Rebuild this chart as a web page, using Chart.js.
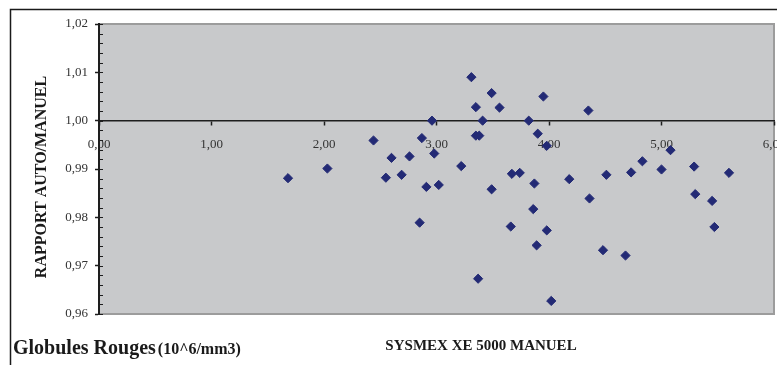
<!DOCTYPE html>
<html>
<head>
<meta charset="utf-8">
<title>Globules Rouges - Sysmex XE 5000</title>
<script src="https://cdn.jsdelivr.net/npm/chart.js@4/dist/chart.umd.min.js"></script>
<style>
  html, body { margin: 0; padding: 0; background: #ffffff; }
  #chart { display: block; }
</style>
</head>
<body>
<canvas id="chart" width="777" height="365"></canvas>
<script>
// Manual count (10^6/mm3) and automatic/manual ratio for each sample
const manuelValues = [
  1.68, 2.03, 2.44, 2.55, 2.60, 2.69, 2.76, 2.85, 2.87, 2.91,
  2.96, 2.98, 3.02, 3.22, 3.31, 3.35, 3.35, 3.38, 3.37, 3.41,
  3.49, 3.49, 3.56, 3.66, 3.67, 3.74, 3.82, 3.86, 3.87, 3.90,
  3.89, 3.95, 3.98, 3.98, 4.02, 4.18, 4.35, 4.36, 4.48, 4.51,
  4.68, 4.73, 4.83, 5.00, 5.08, 5.29, 5.30, 5.45, 5.47, 5.60
];
const rapportValues = [
  0.9881, 0.9901, 0.9959, 0.9882, 0.9923, 0.9888, 0.9926, 0.9789, 0.9964, 0.9863,
  1.0000, 0.9932, 0.9867, 0.9906, 1.0090, 1.0028, 0.9969, 0.9969, 0.9673, 1.0000,
  1.0057, 0.9858, 1.0027, 0.9781, 0.9890, 0.9892, 1.0000, 0.9817, 0.9870, 0.9973,
  0.9742, 1.0050, 0.9773, 0.9948, 0.9627, 0.9879, 1.0021, 0.9839, 0.9732, 0.9888,
  0.9721, 0.9893, 0.9916, 0.9899, 0.9939, 0.9905, 0.9848, 0.9834, 0.9780, 0.9892
];

// Axis settings and texts
const xTicks = { min: 0, max: 6, step: 1 };
const yTicks = { min: 0.96, max: 1.02, step: 0.01, minorStep: 0.002 };
const xAxisTitle = 'SYSMEX XE 5000 MANUEL';
const yAxisTitle = 'RAPPORT AUTO/MANUEL';
const chartTitle = 'Globules Rouges';
const chartUnit = '(10^6/mm3)';

const SERIF = "'Liberation Serif', 'Times New Roman', 'DejaVu Serif', serif";
const commaFormat = v => Number(v).toFixed(2).replace('.', ',');

const points = manuelValues.map((x, i) => ({ x: x, y: rapportValues[i] }));

// Gray plot area, its border, minor ticks, outer frame and free texts
const decorations = {
  id: 'decorations',
  beforeDraw(chart) {
    const { ctx, chartArea: a } = chart;
    ctx.save();
    ctx.fillStyle = '#ffffff';
    ctx.fillRect(0, 0, chart.width, chart.height);
    ctx.fillStyle = '#c8c9cb';
    ctx.fillRect(a.left, a.top, a.right - a.left, a.bottom - a.top);
    ctx.strokeStyle = '#9c9c9c';
    ctx.lineWidth = 2;
    ctx.beginPath();
    ctx.moveTo(a.left, a.top);
    ctx.lineTo(a.right, a.top);
    ctx.lineTo(a.right, a.bottom);
    ctx.lineTo(a.left, a.bottom);
    ctx.stroke();
    ctx.restore();
  },
  beforeDatasetsDraw(chart) {
    const { ctx, chartArea: a } = chart;
    const ys = chart.scales.y;
    ctx.save();
    ctx.strokeStyle = '#1e1e1e';
    ctx.lineWidth = 1;
    const n = Math.round((yTicks.max - yTicks.min) / yTicks.minorStep);
    for (let i = 0; i <= n; i++) {
      const v = yTicks.min + i * yTicks.minorStep;
      const py = Math.round(ys.getPixelForValue(v)) + 0.5;
      ctx.beginPath();
      ctx.moveTo(a.left, py);
      ctx.lineTo(a.left + 4, py);
      ctx.stroke();
    }
    ctx.restore();
  },
  afterDraw(chart) {
    const { ctx } = chart;
    ctx.save();
    // outer frame
    ctx.strokeStyle = '#1a1a1a';
    ctx.lineWidth = 1.5;
    ctx.strokeRect(10.5, 9.5, 900, 500);

    ctx.fillStyle = '#1a1a1a';
    // y axis title
    ctx.save();
    ctx.translate(42, 177);
    ctx.rotate(-Math.PI / 2);
    ctx.font = 'bold 16px ' + SERIF;
    ctx.textAlign = 'center';
    ctx.textBaseline = 'middle';
    ctx.fillText(yAxisTitle, 0, 0);
    ctx.restore();

    // x axis title
    ctx.font = 'bold 15px ' + SERIF;
    ctx.textAlign = 'center';
    ctx.textBaseline = 'alphabetic';
    ctx.fillText(xAxisTitle, 481, 350);

    // chart title with unit
    ctx.textAlign = 'left';
    ctx.font = 'bold 20px ' + SERIF;
    ctx.fillText(chartTitle, 13, 354);
    const w = ctx.measureText(chartTitle).width;
    ctx.font = 'bold 16px ' + SERIF;
    ctx.fillText(chartUnit, 13 + w + 2, 354);
    ctx.restore();
  }
};

new Chart(document.getElementById('chart'), {
  type: 'scatter',
  data: {
    datasets: [{
      data: points,
      pointStyle: 'rectRot',
      pointRadius: 4.6,
      pointHoverRadius: 4.6,
      pointBackgroundColor: '#232a75',
      pointBorderColor: '#232a75',
      pointBorderWidth: 1
    }]
  },
  options: {
    responsive: false,
    animation: false,
    layout: { autoPadding: false, padding: { left: 0, top: 24, right: 3, bottom: 51 } },
    plugins: {
      legend: { display: false },
      tooltip: { enabled: false }
    },
    scales: {
      x: {
        type: 'linear',
        position: { y: 1.0 },
        min: xTicks.min,
        max: xTicks.max,
        afterFit(scale) { scale.paddingLeft = 0; scale.paddingRight = 0; },
        ticks: {
          stepSize: xTicks.step,
          autoSkip: false,
          maxRotation: 0,
          padding: 12,
          color: '#333333',
          font: { family: SERIF, size: 13 },
          callback: v => commaFormat(v)
        },
        grid: {
          drawOnChartArea: false,
          drawTicks: true,
          tickLength: 4,
          tickColor: '#1e1e1e',
          tickWidth: 1.5
        },
        border: { display: true, color: '#1e1e1e', width: 1.5 }
      },
      y: {
        type: 'linear',
        position: 'left',
        min: yTicks.min,
        max: yTicks.max,
        afterFit(scale) { scale.width = 99; },
        ticks: {
          stepSize: yTicks.step,
          autoSkip: false,
          padding: 7,
          color: '#333333',
          font: { family: SERIF, size: 13 },
          callback: v => commaFormat(v)
        },
        grid: {
          drawOnChartArea: false,
          drawTicks: true,
          tickLength: 4,
          tickColor: '#1e1e1e',
          tickWidth: 1.5
        },
        border: { display: true, color: '#1e1e1e', width: 2 }
      }
    }
  },
  plugins: [decorations]
});
</script>
</body>
</html>
